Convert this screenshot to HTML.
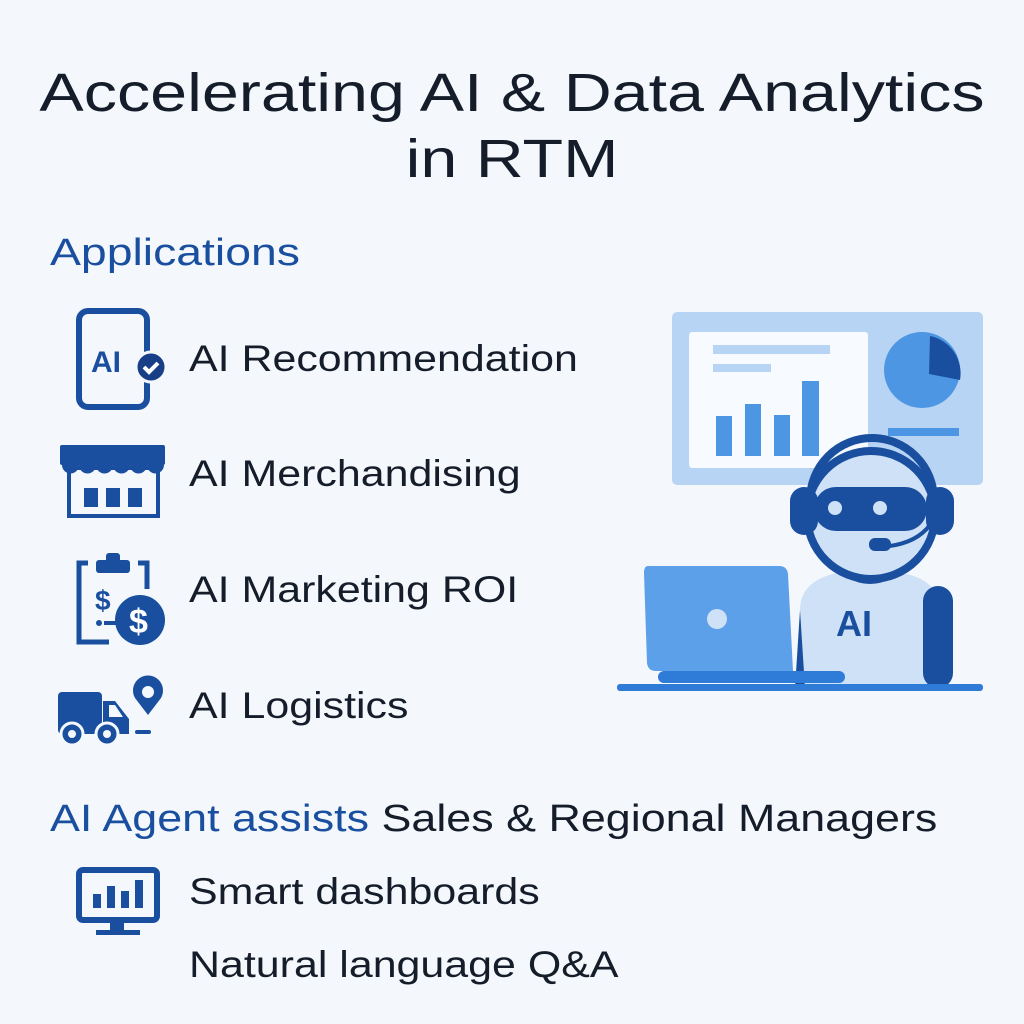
<!DOCTYPE html><html><head><style>
body{margin:0;width:1024px;height:1024px;background:#f4f8fc;font-family:"Liberation Sans",sans-serif;position:relative;overflow:hidden}
.t{position:absolute;white-space:nowrap;transform-origin:0 0}
.h1{left:0;width:1024px;text-align:center;font-size:54px;color:#151d2a;font-weight:500;transform:scaleX(1.23);transform-origin:512px 0}
.it{left:189px;font-size:37px;color:#151d2a;transform:scaleX(1.16)}
</style></head><body>
<div class="t h1" style="top:62px">Accelerating AI &amp; Data Analytics</div>
<div class="t h1" style="top:128px">in RTM</div>
<div class="t" style="left:50px;top:232px;font-size:38px;color:#1a4fa0;transform:scaleX(1.22)">Applications</div>
<div class="t it" style="top:338px">AI Recommendation</div>
<div class="t it" style="top:453px">AI Merchandising</div>
<div class="t it" style="top:569px">AI Marketing ROI</div>
<div class="t it" style="top:685px">AI Logistics</div>
<div class="t" style="left:50px;top:798px;font-size:38px;color:#151d2a;transform:scaleX(1.18)"><span style="color:#1a4fa0">AI Agent assists</span> Sales &amp; Regional Managers</div>
<div class="t it" style="top:871px">Smart dashboards</div>
<div class="t it" style="top:944px">Natural language Q&amp;A</div>
<svg width="1024" height="1024" style="position:absolute;left:0;top:0">
<g fill="#1a4fa0" stroke="#1a4fa0">
<rect x="79" y="311" width="68" height="96" rx="9" fill="none" stroke-width="6"/>
<rect x="96" y="309" width="32" height="5" stroke="none"/>
<text x="91" y="372" font-size="30" font-weight="bold" stroke="none" font-family="Liberation Sans">AI</text>
<circle cx="151" cy="367" r="15" fill="#173e86" stroke="#f4f8fc" stroke-width="3"/>
<path d="M144 367l5 5 9-9" fill="none" stroke="#fff" stroke-width="4"/>
<rect x="60" y="445" width="105" height="20" stroke="none" rx="2"/>
<path d="M62 465a8 8 0 0 0 17 0a8 8 0 0 0 17 0a8 8 0 0 0 17 0a8 8 0 0 0 17 0a8 8 0 0 0 17 0a8 8 0 0 0 17 0z" stroke="none"/>
<rect x="69" y="468" width="89" height="48" fill="none" stroke-width="4"/>
<rect x="84" y="488" width="14" height="19" stroke="none"/><rect x="106" y="488" width="14" height="19" stroke="none"/><rect x="128" y="488" width="14" height="19" stroke="none"/>
<path d="M88 563h-9v79h30M138 563h9v26" fill="none" stroke-width="5"/>
<rect x="96" y="560" width="34" height="13" rx="3" stroke="none"/><rect x="106" y="553" width="14" height="10" rx="3" stroke="none"/>
<text x="95" y="610" font-size="28" font-weight="bold" stroke="none" font-family="Liberation Sans">$</text>
<circle cx="99" cy="623" r="3" stroke="none"/><rect x="104" y="621" width="12" height="4" stroke="none"/>
<circle cx="140" cy="620" r="25" stroke="none"/>
<text x="129" y="633" font-size="34" font-weight="bold" fill="#fff" stroke="none" font-family="Liberation Sans">$</text>
<rect x="58" y="692" width="44" height="42" rx="4" stroke="none"/>
<path d="M103 701h12l14 18v15h-26z" stroke="none"/>
<path d="M109 705h6l8 12h-14z" fill="#f4f8fc" stroke="none"/>
<circle cx="72" cy="734" r="11" stroke="#f4f8fc" stroke-width="3"/><circle cx="72" cy="734" r="4" fill="#f4f8fc" stroke="none"/>
<circle cx="107" cy="734" r="11" stroke="#f4f8fc" stroke-width="3"/><circle cx="107" cy="734" r="4" fill="#f4f8fc" stroke="none"/>
<path d="M148 715l-13-17a15 15 0 1 1 26 0z" stroke="none"/><circle cx="148" cy="692" r="6" fill="#f4f8fc" stroke="none"/>
<rect x="135" y="730" width="16" height="4" stroke="none" rx="2"/>
<rect x="79" y="870" width="78" height="50" rx="4" fill="none" stroke-width="6"/>
<rect x="93" y="894" width="8" height="14" stroke="none"/><rect x="107" y="886" width="8" height="22" stroke="none"/><rect x="121" y="891" width="8" height="17" stroke="none"/><rect x="135" y="880" width="8" height="28" stroke="none"/>
<rect x="110" y="920" width="14" height="12" stroke="none"/><rect x="96" y="930" width="44" height="5" stroke="none"/>
</g>
<rect x="672" y="312" width="311" height="173" rx="5" fill="#b8d4f4"/>
<rect x="689" y="332" width="179" height="136" rx="3" fill="#f7fafe"/>
<rect x="713" y="345" width="117" height="9" fill="#b8d4f4"/><rect x="713" y="364" width="58" height="8" fill="#b8d4f4"/>
<g fill="#4d96e4"><rect x="716" y="416" width="16" height="40"/><rect x="745" y="404" width="16" height="52"/><rect x="774" y="415" width="16" height="41"/><rect x="802" y="381" width="17" height="75"/></g>
<circle cx="922" cy="370" r="38" fill="#4d96e4"/>
<path d="M930 336a38 38 0 0 1 30 44l-31-6z" fill="#1a4fa0"/>
<rect x="888" y="428" width="71" height="8" fill="#4d96e4"/>
<path d="M800 690v-80q0-40 70-40q70 0 70 40v80z" fill="#cfe1f6"/>
<path d="M800 610l-5 78h10z" fill="#1a4fa0"/>
<rect x="923" y="586" width="30" height="102" rx="15" fill="#1a4fa0"/>
<path d="M842 566a28 18 0 0 0 56 0z" fill="#1a4fa0"/>
<text x="836" y="636" font-size="36" font-weight="bold" fill="#1a4fa0" font-family="Liberation Sans">AI</text>
<circle cx="871" cy="515" r="64" fill="#cfe1f6" stroke="#1a4fa0" stroke-width="8"/>
<rect x="814" y="487" width="113" height="44" rx="22" fill="#1a4fa0"/>
<circle cx="835" cy="508" r="7" fill="#cfe1f6"/><circle cx="880" cy="508" r="7" fill="#cfe1f6"/>
<path d="M810 500a62 62 0 0 1 124 0" fill="none" stroke="#1a4fa0" stroke-width="8"/>
<rect x="790" y="487" width="28" height="48" rx="14" fill="#1a4fa0"/>
<rect x="926" y="487" width="28" height="48" rx="14" fill="#1a4fa0"/>
<path d="M930 525q-15 20-50 22" fill="none" stroke="#1a4fa0" stroke-width="4"/>
<rect x="869" y="538" width="22" height="13" rx="6" fill="#1a4fa0"/>
<path d="M648 566h131q8 0 9 8l5 97h-137q-8 0-9-8l-3-90q0-7 4-7z" fill="#5ba0e8"/>
<circle cx="717" cy="619" r="10" fill="#cfe1f6"/>
<rect x="658" y="671" width="187" height="12" rx="6" fill="#2f7bd8"/>
<rect x="617" y="684" width="366" height="7" rx="3" fill="#2f7bd8"/>
</svg>
</body></html>
